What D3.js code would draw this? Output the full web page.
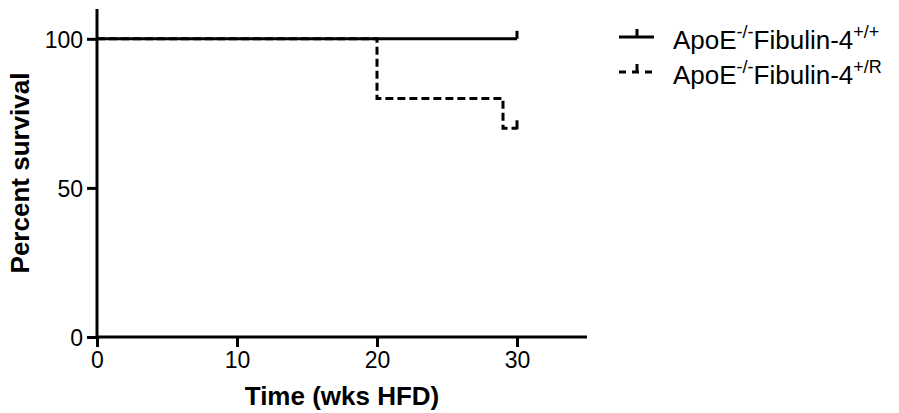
<!DOCTYPE html>
<html><head><meta charset="utf-8">
<script src="https://cdn.jsdelivr.net/npm/d3@7"></script>
<style>body{margin:0;background:#fff}svg{display:block}text{font-family:"Liberation Sans",Arial,sans-serif;fill:#000}</style>
</head><body><svg id="c" width="899" height="413"></svg>
<script>
const xTicks=[0,10,20,30];
const yTicks=[0,50,100];
const series1Time=[0,30];
const series1Surv=[100,100];
const series2Time=[0,20,29,30];
const series2Surv=[100,80,70,70];
const censor1=[30];
const censor2=[30];
const legendLabels=[["ApoE","-/-","Fibulin-4","+/+"],["ApoE","-/-","Fibulin-4","+/R"]];

const svg=d3.select("#c");
const x=d3.scaleLinear().domain([0,35]).range([97,587]);
const y=d3.scaleLinear().domain([0,110]).range([337,9]);

const xAxis=svg.append("g").attr("transform","translate(0,337)")
  .call(d3.axisBottom(x).tickValues(xTicks).tickSize(10).tickSizeOuter(0).tickPadding(4));
const yAxis=svg.append("g").attr("transform","translate(97,0)")
  .call(d3.axisLeft(y).tickValues(yTicks).tickSize(10).tickSizeOuter(0).tickPadding(4));
[xAxis,yAxis].forEach(g=>{
  g.select(".domain").attr("stroke","#000").attr("stroke-width",3);
  g.selectAll(".tick line").attr("stroke","#000").attr("stroke-width",3);
  g.selectAll(".tick text").attr("font-size",23).attr("fill","#000").attr("font-family","Liberation Sans, Arial, sans-serif");
});
xAxis.select(".domain").attr("d",`M${x(0)},0H${x(35)}`);
yAxis.select(".domain").attr("d",`M0,${y(0)}V${y(110)}`);
yAxis.selectAll(".tick text").attr("dy","0.36em");
xAxis.selectAll(".tick text").attr("dy","0.76em");

svg.append("text").attr("x",x(17.5)).attr("y",405).attr("text-anchor","middle")
  .attr("font-size",26).attr("font-weight","bold").text("Time (wks HFD)");
svg.append("text").attr("transform",`translate(29,173) rotate(-90)`).attr("text-anchor","middle")
  .attr("font-size",26).attr("font-weight","bold").text("Percent survival");

const line=d3.line().x(d=>x(d[0])).y(d=>y(d[1])).curve(d3.curveStepAfter);
const d1=series1Time.map((t,i)=>[t,series1Surv[i]]);
const d2=series2Time.map((t,i)=>[t,series2Surv[i]]);
svg.append("path").attr("d",line(d1)).attr("fill","none").attr("stroke","#000").attr("stroke-width",3);
svg.append("path").attr("d",line(d2)).attr("fill","none").attr("stroke","#000").attr("stroke-width",3).attr("stroke-dasharray","8,4");
censor1.forEach(t=>svg.append("line").attr("x1",x(t)).attr("x2",x(t)).attr("y1",y(100)).attr("y2",y(100)-8).attr("stroke","#000").attr("stroke-width",3));
censor2.forEach(t=>svg.append("line").attr("x1",x(t)).attr("x2",x(t)).attr("y1",y(70)+1).attr("y2",y(70)-8).attr("stroke","#000").attr("stroke-width",3));

// legend
const lg=svg.append("g");
legendLabels.forEach((lab,i)=>{
  const ly=37+i*35;
  const g=lg.append("g");
  g.append("line").attr("x1",619).attr("x2",654).attr("y1",ly).attr("y2",ly).attr("stroke","#000").attr("stroke-width",3)
    .attr("stroke-dasharray",i===1?"7,6":null);
  g.append("line").attr("x1",637).attr("x2",637).attr("y1",ly).attr("y2",ly-8).attr("stroke","#000").attr("stroke-width",3);
  const t=g.append("text").attr("x",673).attr("y",ly+12).attr("font-size",26);
  t.append("tspan").text(lab[0]);
  t.append("tspan").attr("font-size",18).attr("dy",-11).text(lab[1]);
  t.append("tspan").attr("dy",11).text(lab[2]);
  t.append("tspan").attr("font-size",18).attr("dy",-11).text(lab[3]);
});
</script></body></html>
